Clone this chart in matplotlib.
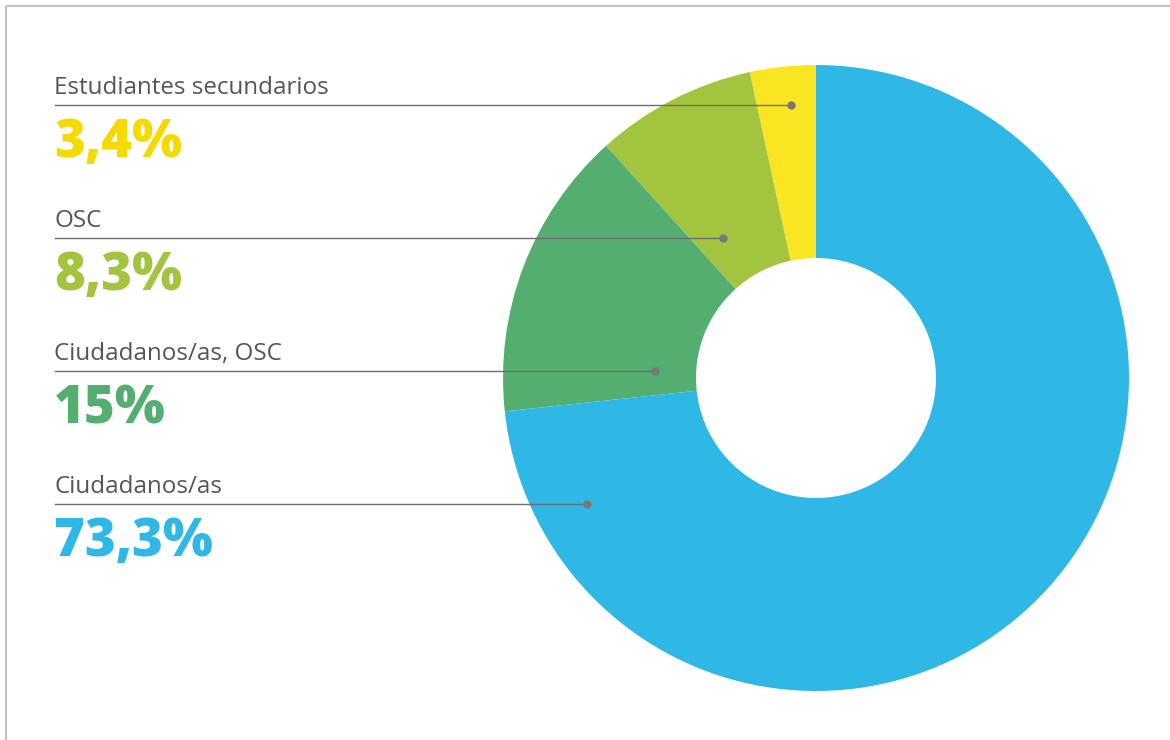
import matplotlib.pyplot as plt

# participación por tipo de participante
labels = ['Estudiantes secundarios', 'OSC', 'Ciudadanos/as, OSC', 'Ciudadanos/as']
values = [3.4, 8.3, 15.0, 73.3]
pct_text = ['3,4%', '8,3%', '15%', '73,3%']
colors = ['#FAE523', '#A2C43F', '#54AE70', '#2FB8E6']
text_colors = ['#F5DA00', '#A2C43F', '#54AE70', '#2FB8E6']

W, H = 1170, 740
fig = plt.figure(figsize=(W / 100, H / 100), dpi=100)
ax = fig.add_axes([0, 0, 1, 1])

# dona
cx, cy = 816, H - 378
R = 313
ax.pie(values, colors=colors, startangle=90, counterclock=True,
       center=(cx, cy), radius=R,
       wedgeprops=dict(width=R - 120, linewidth=0))

ax.set_xlim(0, W)
ax.set_ylim(0, H)
ax.set_aspect('equal')
ax.axis('off')

# marco gris arriba y a la izquierda
ax.plot([6, W], [H - 6, H - 6], color='#c4c4c4', lw=1.6, solid_capstyle='butt')
ax.plot([6, 6], [H - 6, 0], color='#c4c4c4', lw=1.6, solid_capstyle='butt')

# etiquetas con línea guía
row_gap = 133
for i, (lab, pct, tc) in enumerate(zip(labels, pct_text, text_colors)):
    y_line = H - (105 + row_gap * i)
    x_dot = 791 - 68 * i
    ax.plot([55, x_dot], [y_line, y_line], color='#6e6e6e', lw=1.0)
    ax.plot(x_dot, y_line, 'o', color='#777777', ms=6, mec='none')
    ax.text(54, y_line + 11, lab, fontsize=17.4, color='#555555',
            family='Open Sans', va='baseline', ha='left')
    ax.text(54, y_line - 52, pct, fontsize=38, color=tc,
            family='Open Sans', fontweight='heavy', va='baseline', ha='left')

fig.savefig('out.png', dpi=100)
